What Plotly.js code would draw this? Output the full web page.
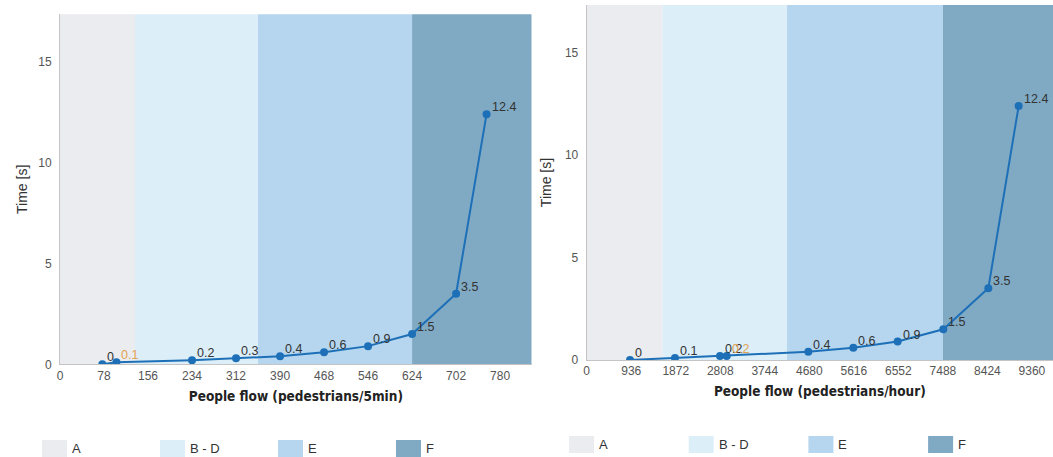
<!DOCTYPE html>
<html>
<head>
<meta charset="utf-8">
<script src="https://cdn.plot.ly/plotly-3.0.1.min.js"></script>
<style>
  html, body { margin: 0; padding: 0; background: #ffffff; }
  #chart { width: 1053px; height: 457px; }
</style>
</head>
<body>
<div id="chart"></div>
<script>
// ---- data ----
const levels = ['A', 'B - D', 'E', 'F'];
const bandEdges5min = [0, 133, 351, 624, 836];
const bandEdgesHour = [0, 1596, 4212, 7488, 9803];

const flow5min = [75, 100, 234, 312, 390, 468, 546, 624, 702, 756];
const time5min = [0, 0.1, 0.2, 0.3, 0.4, 0.6, 0.9, 1.5, 3.5, 12.4];
const labels5min = ['0', '0.1', '0.2', '0.3', '0.4', '0.6', '0.9', '1.5', '3.5', '12.4'];
const highlight5min = [false, true, false, false, false, false, false, false, false, false];

const flowHour = [910, 1856, 2803, 2943, 4659, 5605, 6537, 7497, 8443, 9081];
const timeHour = [0, 0.1, 0.2, 0.2, 0.4, 0.6, 0.9, 1.5, 3.5, 12.4];
const labelsHour = ['0', '0.1', '0.2', '0.2', '0.4', '0.6', '0.9', '1.5', '3.5', '12.4'];
const highlightHour = [false, false, false, true, false, false, false, false, false, false];

const ticks5min = [0, 78, 156, 234, 312, 390, 468, 546, 624, 702, 780];
const ticksHour = [0, 936, 1872, 2808, 3744, 4680, 5616, 6552, 7488, 8424, 9360];
const yTicks = [0, 5, 10, 15];

const xTitle5min = 'People flow (pedestrians/5min)';
const xTitleHour = 'People flow (pedestrians/hour)';
const yTitle = 'Time [s]';

// ---- styles ----
const W = 1053, H = 457;
const levelColors = ['#eaecef', '#dceef8', '#b5d6ee', '#80a9c4'];
const lineColor = '#1d70b7';
const labelColor = '#333333';
const orange = '#e3a24f';
const baseFamily = 'Liberation Sans, Arial, sans-serif';
const tickFont = { family: baseFamily, size: 12, color: '#555555' };
const xTitleFont = { family: 'Liberation Sans Narrow, DejaVu Sans Condensed, Arial Narrow, sans-serif', size: 13.5, color: '#222222', weight: 'bold' };
const yTitleFont = { family: baseFamily, size: 14, color: '#333333' };

const px = v => v / W;
const py = v => 1 - v / H;

function lineTrace(x, y, xa, ya) {
  return {
    type: 'scatter', mode: 'lines+markers',
    x: x, y: y,
    line: { color: lineColor, width: 2 },
    marker: { color: lineColor, size: 8 },
    xaxis: xa, yaxis: ya, showlegend: false, hoverinfo: 'x+y'
  };
}

const traces = [
  lineTrace(flow5min, time5min, 'x', 'y'),
  lineTrace(flowHour, timeHour, 'x2', 'y2')
];

const shapes = [];
const annotations = [];
levels.forEach((lv, i) => {
  shapes.push({ type: 'rect', xref: 'x', yref: 'y domain', x0: bandEdges5min[i], x1: bandEdges5min[i + 1],
                y0: 0, y1: 1, fillcolor: levelColors[i], line: { width: 0 }, layer: 'below' });
  shapes.push({ type: 'rect', xref: 'x2', yref: 'y2 domain', x0: bandEdgesHour[i], x1: bandEdgesHour[i + 1],
                y0: 0, y1: 1, fillcolor: levelColors[i], line: { width: 0 }, layer: 'below' });
});

// data labels, anchored on the data points
function addLabels(xs, ys, labels, hl, xref, yref) {
  xs.forEach((x, i) => {
    annotations.push({ xref: xref, yref: yref, x: x, y: ys[i], text: labels[i], showarrow: false,
                       xanchor: 'left', yanchor: 'middle', xshift: 3, yshift: 7,
                       font: { family: baseFamily, size: 12.5, color: hl[i] ? orange : labelColor } });
  });
}
addLabels(flow5min, time5min, labels5min, highlight5min, 'x', 'y');
addLabels(flowHour, timeHour, labelsHour, highlightHour, 'x2', 'y2');

// legends (drawn below each panel)
function addLegend(startX, step, top, bottom, textY) {
  levels.forEach((lv, i) => {
    const x0 = startX + i * step;
    shapes.push({ type: 'rect', xref: 'paper', yref: 'paper', x0: px(x0), x1: px(x0 + 25),
                  y0: py(bottom), y1: py(top), fillcolor: levelColors[i], line: { width: 0 } });
    annotations.push({ xref: 'paper', yref: 'paper', x: px(x0 + 28), y: py(textY), text: lv,
                       showarrow: false, xanchor: 'left', yanchor: 'middle',
                       font: { family: baseFamily, size: 13, color: '#333333' } });
  });
}
addLegend(42, 118, 440, 458, 448);
addLegend(569, 119.7, 436, 453, 444);

function xAxis(ticks, range, title, domain, anchor) {
  return {
    domain: domain, anchor: anchor, range: range,
    tickmode: 'array', tickvals: ticks, ticktext: ticks.map(String),
    tickfont: tickFont, showgrid: false, zeroline: false,
    showline: true, linecolor: '#c4c4c4', linewidth: 1, ticks: '',
    title: { text: title, font: xTitleFont, standoff: 9 }
  };
}
function yAxis(range, domain, anchor, standoff) {
  return {
    domain: domain, anchor: anchor, range: range,
    tickmode: 'array', tickvals: yTicks, ticktext: yTicks.map(String),
    tickfont: tickFont, showgrid: false, zeroline: false,
    showline: true, linecolor: '#c4c4c4', linewidth: 1, ticks: '',
    ticklabelstandoff: 5,
    title: { text: yTitle, font: yTitleFont, standoff: standoff }
  };
}

const layout = {
  width: W, height: H,
  margin: { l: 0, r: 0, t: 0, b: 0 },
  paper_bgcolor: '#ffffff', plot_bgcolor: '#ffffff',
  showlegend: false,
  xaxis: xAxis(ticks5min, [0, 836], xTitle5min, [px(60), px(531.7)], 'y'),
  yaxis: yAxis([0, 17.35], [py(364.3), py(14.3)], 'x', 7),
  xaxis2: xAxis(ticksHour, [0, 9803], xTitleHour, [px(586.7), 1], 'y2'),
  yaxis2: yAxis([0, 17.33], [py(360), py(5)], 'x2', 10),
  shapes: shapes,
  annotations: annotations
};

Plotly.newPlot('chart', traces, layout, { displayModeBar: false, staticPlot: true });
</script>
</body>
</html>
